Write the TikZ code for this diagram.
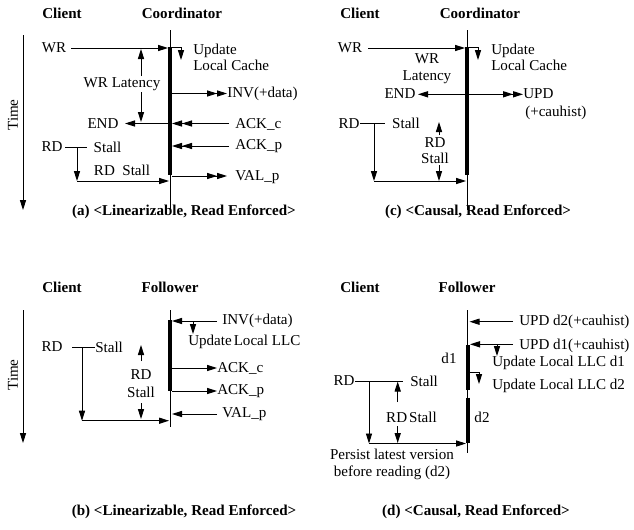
\documentclass[tikz,border=0pt]{standalone}
\usepackage{fontspec}
\setmainfont{Liberation Serif}
\usetikzlibrary{arrows.meta}
\begin{document}
\begin{tikzpicture}[x=0.75pt,y=-0.75pt,
  every node/.style={inner sep=0pt,font=\fontsize{11.3}{12.5}\selectfont},
  hdr/.style={font=\fontsize{11.3}{12.5}\selectfont\bfseries},
  ln/.style={line width=0.7pt},
  ar/.style={line width=0.7pt,-{Triangle[length=7.5pt,width=4.6pt]}},
  dar/.style={line width=0.7pt,-{Triangle[length=7.5pt,width=4.6pt]Triangle[length=7.5pt,width=4.6pt]}},
  bar/.style={line width=3.4pt},
  two/.style={align=center},
  twol/.style={align=left}]
\useasboundingbox (0,0) rectangle (634,529);

% ================= Panel (a) =================
\node[hdr] (aCl) at (62,13) {Client};
\node[hdr] (aCo) at (182,13) {Coordinator};
\coordinate (aT1) at (23,35); \coordinate (aT2) at (23,210);
\draw[ar] (aT1) -- (aT2);
\node[rotate=90] (aTime) at (13,115) {Time};
\coordinate (aL1) at (170,30); \coordinate (aL2) at (170,210);
\draw[ln] (aL1) -- (aL2);
\coordinate (aB1) at (170,47); \coordinate (aB2) at (170,175);
\draw[bar] (aB1) -- (aB2);
% WR
\node (aWR) at (54,48) {WR};
\coordinate (aWRs) at (71,48); \coordinate (aWRe) at (168,48);
\draw[ar] (aWRs) -- (aWRe);
\coordinate (aU1) at (171,47.5); \coordinate (aU2) at (181,60);
\draw[ar] (aU1) -| (aU2);
\node[twol,anchor=west] (aUpd) at (193,57.5) {Update\\Local Cache};
% WR latency
\node (aLat) at (122,84) {WR Latency};
\coordinate (aLa1) at (141,76); \coordinate (aLa2) at (141,49);
\coordinate (aLa3) at (141,92); \coordinate (aLa4) at (141,122);
\draw[ar] (aLa1) -- (aLa2);
\draw[ar] (aLa3) -- (aLa4);
% INV
\node[anchor=west] (aINV) at (227,94) {INV(+data)};
\coordinate (aI1) at (172,93.5);
\draw[dar] (aI1) -- (aINV.west |- aI1);
% END / ACK_c
\node (aEND) at (103,124) {END};
\coordinate (aE1) at (170,123.5); \coordinate (aE2) at (125,123.5);
\draw[ar] (aE1) -- (aE2);
\node[anchor=west] (aACKc) at (235,124) {ACK\_c};
\coordinate (aC1) at (229,123.5); \coordinate (aC2) at (172,123.5);
\draw[dar] (aC1) -- (aC2);
% ACK_p
\node[anchor=west] (aACKp) at (235,146) {ACK\_p};
\coordinate (aP1) at (229,146); \coordinate (aP2) at (172,146);
\draw[dar] (aP1) -- (aP2);
% VAL_p
\node[anchor=west] (aVAL) at (235,177) {VAL\_p};
\coordinate (aV1) at (172,176); \coordinate (aV2) at (227,176);
\draw[dar] (aV1) -- (aV2);
% RD
\node (aRD) at (52,147) {RD};
\node (aSt) at (107.5,147) {Stall};
\coordinate (aR1) at (65,147); \coordinate (aR2) at (87,147);
\draw[ln] (aR1) -- (aR2);
\coordinate (aR3) at (77,147); \coordinate (aR4) at (77,181);
\coordinate (aR5) at (169,181);
\draw[ar] (aR3) -- (aR4);
\draw[ar] (aR4) -- (aR5);
\node (aRDS) at (122,170) {RD\ \ Stall};
\node[hdr] (aCap) at (184,212) {(a) <Linearizable, Read Enforced>};

% ================= Panel (c) =================
\node[hdr] (cCl) at (360,13) {Client};
\node[hdr] (cCo) at (480,13) {Coordinator};
\coordinate (cL1) at (467,30); \coordinate (cL2) at (467,210);
\draw[ln] (cL1) -- (cL2);
\coordinate (cB1) at (467,47); \coordinate (cB2) at (467,175);
\draw[bar] (cB1) -- (cB2);
\node (cWR) at (350,48) {WR};
\coordinate (cWRs) at (368,48); \coordinate (cWRe) at (465,48);
\draw[ar] (cWRs) -- (cWRe);
\coordinate (cU1) at (468,47.5); \coordinate (cU2) at (478,60);
\draw[ar] (cU1) -| (cU2);
\node[twol,anchor=west] (cUpd) at (491,57.5) {Update\\Local Cache};
\node[two] (cLat) at (427,69) {WR\\Latency};
\node (cEND) at (400,94) {END};
\coordinate (cE1) at (467,94.3); \coordinate (cE2) at (418,94.3);
\draw[ar] (cE1) -- (cE2);
\node[anchor=west] (cUPD) at (523,94) {UPD};
\node[anchor=west] (cUPD2) at (525,113) {(+cauhist)};
\coordinate (cD1) at (469,94.3);
\draw[dar] (cD1) -- (cUPD.west |- cD1);
\node (cRD) at (349,124) {RD};
\node (cSt) at (406,123) {Stall};
\coordinate (cR1) at (360,123); \coordinate (cR2) at (385,123);
\draw[ln] (cR1) -- (cR2);
\coordinate (cR3) at (374,123); \coordinate (cR4) at (374,181);
\coordinate (cR5) at (466,181);
\draw[ar] (cR3) -- (cR4);
\draw[ar] (cR4) -- (cR5);
\node[two] (cRDS) at (435,150.5) {RD\\[-1pt]Stall};
\coordinate (cS1) at (439,135); \coordinate (cS2) at (439,122);
\coordinate (cS3) at (439,165); \coordinate (cS4) at (439,181);
\draw[ar] (cS1) -- (cS2);
\draw[ar] (cS3) -- (cS4);
\node[hdr] (cCap) at (478,212) {(c) <Causal, Read Enforced>};

% ================= Panel (b) =================
\node[hdr] (bCl) at (62,287) {Client};
\node[hdr] (bFo) at (170,287) {Follower};
\coordinate (bT1) at (23,310); \coordinate (bT2) at (23,443);
\draw[ar] (bT1) -- (bT2);
\node[rotate=90] (bTime) at (13,375) {Time};
\coordinate (bL1) at (170,310); \coordinate (bL2) at (170,427);
\draw[ln] (bL1) -- (bL2);
\coordinate (bB1) at (170,320); \coordinate (bB2) at (170,391);
\draw[bar] (bB1) -- (bB2);
\node[anchor=west] (bINV) at (222,321) {INV(+data)};
\coordinate (bI1) at (217,321); \coordinate (bI2) at (172,321);
\draw[ar] (bI1) -- (bI2);
\coordinate (bU1) at (193,321.5); \coordinate (bU2) at (193,334);
\draw[ar] (bU1) -- (bU2);
\node[anchor=west] (bUpd) at (188,342) {Update\hspace{1.5pt}Local LLC};
\node[anchor=west] (bACKc) at (217,368) {ACK\_c};
\coordinate (bC1) at (172,368);
\draw[ar] (bC1) -- (bACKc.west);
\node[anchor=west] (bACKp) at (217,391) {ACK\_p};
\coordinate (bP1) at (172,391);
\draw[ar] (bP1) -- (bACKp.west);
\node[anchor=west] (bVAL) at (222,414) {VAL\_p};
\coordinate (bV1) at (217,414); \coordinate (bV2) at (172,414);
\draw[ar] (bV1) -- (bV2);
\node (bRD) at (52,347) {RD};
\node[anchor=west] (bSt) at (95,347) {Stall};
\coordinate (bR1) at (72,347);
\draw[ln] (bR1) -- (bSt.west);
\coordinate (bR3) at (82,347); \coordinate (bR4) at (82,420.7);
\coordinate (bR5) at (169,420.7);
\draw[ar] (bR3) -- (bR4);
\draw[ar] (bR4) -- (bR5);
\node[two] (bRDS) at (141,384) {RD\\[1pt]Stall};
\coordinate (bS1) at (141,361); \coordinate (bS2) at (141,345);
\coordinate (bS3) at (141,403); \coordinate (bS4) at (141,419);
\draw[ar] (bS1) -- (bS2);
\draw[ar] (bS3) -- (bS4);
\node[hdr] (bCap) at (184,512) {(b) <Linearizable, Read Enforced>};

% ================= Panel (d) =================
\node[hdr] (dCl) at (360,287) {Client};
\node[hdr] (dFo) at (467,287) {Follower};
\coordinate (dL1) at (467.7,310); \coordinate (dL2) at (467.7,453);
\draw[ln] (dL1) -- (dL2);
\coordinate (dB1) at (468,345); \coordinate (dB2) at (468,390);
\draw[bar] (dB1) -- (dB2);
\coordinate (dB3) at (468,397.7); \coordinate (dB4) at (468,443.3);
\draw[bar] (dB3) -- (dB4);
\node[anchor=west] (dUPD2) at (519,322) {UPD d2(+cauhist)};
\coordinate (dA1) at (513,321.7); \coordinate (dA2) at (469.5,321.7);
\draw[ar] (dA1) -- (dA2);
\node[anchor=west] (dUPD1) at (519,346) {UPD d1(+cauhist)};
\coordinate (dA3) at (513,344.3); \coordinate (dA4) at (470,344.3);
\draw[ar] (dA3) -- (dA4);
\coordinate (dT1) at (497,344.3); \coordinate (dT2) at (497,356);
\draw[ar] (dT1) -- (dT2);
\node[anchor=west] (dUL1) at (492,363) {Update Local LLC d1};
\coordinate (dT3) at (469,372.7); \coordinate (dT4) at (479,384);
\draw[ar] (dT3) -| (dT4);
\node[anchor=west] (dUL2) at (492,386) {Update Local LLC d2};
\node (dd1) at (449,358) {d1};
\node (dd2) at (482,417) {d2};
\node (dRD) at (344,381) {RD};
\node[anchor=west] (dSt) at (410,381) {Stall};
\coordinate (dR1) at (355,381); \coordinate (dR2) at (403,381);
\draw[ln] (dR1) -- (dR2);
\coordinate (dR3) at (369,381); \coordinate (dR4) at (369,443.5);
\coordinate (dR5) at (466,443.5);
\draw[ar] (dR3) -- (dR4);
\draw[ar] (dR4) -- (dR5);
\node (dRDS) at (411.5,417) {RD\hspace{1.5pt}Stall};
\coordinate (dS1) at (397.7,402); \coordinate (dS2) at (397.7,381.5);
\coordinate (dS3) at (397.7,426); \coordinate (dS4) at (397.7,443);
\draw[ar] (dS1) -- (dS2);
\draw[ar] (dS3) -- (dS4);
\node[two] (dPer) at (392,464.5) {Persist latest version\\before reading (d2)};
\node[hdr] (dCap) at (476,512) {(d) <Causal, Read Enforced>};
\end{tikzpicture}
\end{document}
